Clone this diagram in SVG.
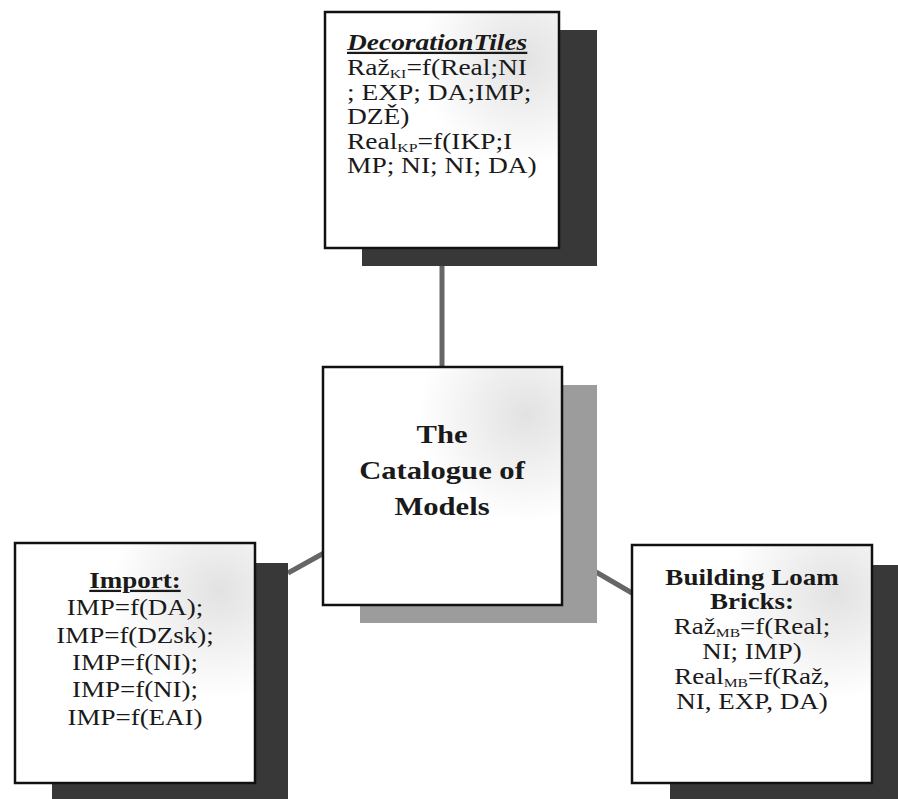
<svg xmlns="http://www.w3.org/2000/svg" width="898" height="799" viewBox="0 0 898 799">
<defs>
<style>
.box{fill:url(#g);stroke:#111;stroke-width:2.5}
.shd{fill:#383838}
.shl{fill:#9c9c9c}
.con{stroke:#666;stroke-width:5;fill:none}
text{font-family:"Liberation Serif","Times New Roman",serif;fill:#1a1a1a}
.t{font-size:22.5px}
.b{font-weight:bold}
.sub{font-size:13px}
.c{text-anchor:middle}
</style>
<radialGradient id="g" cx="0.85" cy="0.2" r="0.45">
<stop offset="0" stop-color="#e2e2e2"/>
<stop offset="1" stop-color="#fff"/>
</radialGradient>
</defs>
<rect width="898" height="799" fill="#fff"/>
<g id="connectors">
<line class="con" x1="442" y1="264" x2="442" y2="368"/>
<line class="con" x1="288" y1="573" x2="324" y2="553"/>
<line class="con" x1="596" y1="572" x2="632" y2="593"/>
</g>
<g id="decoration-tiles">
<rect class="shd" x="362" y="30" width="235" height="236"/>
<rect class="box" x="325" y="12" width="234" height="236"/>
<g transform="translate(347,0) scale(1.22,1)">
<text class="t b" x="0" y="50" font-style="italic" text-decoration="underline">DecorationTiles</text>
<text class="t" x="0" y="75">Raž<tspan class="sub" dy="3">KI</tspan><tspan dy="-3">=f(Real;NI</tspan></text>
<text class="t" x="0" y="100">; EXP; DA;IMP;</text>
<text class="t" x="0" y="124">DZĚ)</text>
<text class="t" x="0" y="149">Real<tspan class="sub" dy="3">KP</tspan><tspan dy="-3">=f(IKP;I</tspan></text>
<text class="t" x="0" y="173">MP; NI; NI; DA)</text>
</g>
</g>
<g id="catalogue">
<rect class="shl" x="360" y="385" width="237" height="238"/>
<rect class="box" x="323" y="367" width="239" height="238"/>
<g transform="translate(442,0) scale(1.2,1)">
<text class="b c" font-size="25.5" x="0" y="443">The</text>
<text class="b c" font-size="25.5" x="0" y="479">Catalogue of</text>
<text class="b c" font-size="25.5" x="0" y="515">Models</text>
</g>
</g>
<g id="import">
<rect class="shd" x="52" y="563" width="236" height="236"/>
<rect class="box" x="15" y="543" width="240" height="240"/>
<g transform="translate(135,0) scale(1.2,1)">
<text class="t b c" x="0" y="588" text-decoration="underline">Import:</text>
<text class="t c" x="0" y="615">IMP=f(DA);</text>
<text class="t c" x="0" y="643">IMP=f(DZsk);</text>
<text class="t c" x="0" y="670">IMP=f(NI);</text>
<text class="t c" x="0" y="697">IMP=f(NI);</text>
<text class="t c" x="0" y="725">IMP=f(EAI)</text>
</g>
</g>
<g id="building-loam-bricks">
<rect class="shd" x="670" y="565" width="228" height="234"/>
<rect class="box" x="632" y="545" width="240" height="238"/>
<g transform="translate(752,0) scale(1.2,1)">
<text class="t b c" x="0" y="585">Building Loam</text>
<text class="t b c" x="0" y="609">Bricks:</text>
<text class="t c" x="0" y="634">Raž<tspan class="sub" dy="3">MB</tspan><tspan dy="-3">=f(Real;</tspan></text>
<text class="t c" x="0" y="659">NI; IMP)</text>
<text class="t c" x="0" y="684">Real<tspan class="sub" dy="3">MB</tspan><tspan dy="-3">=f(Raž,</tspan></text>
<text class="t c" x="0" y="709">NI, EXP, DA)</text>
</g>
</g>
</svg>
